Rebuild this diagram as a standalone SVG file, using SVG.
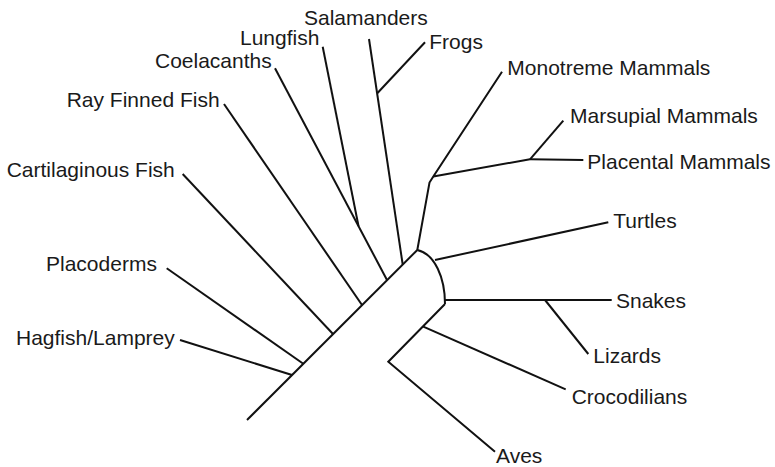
<svg xmlns="http://www.w3.org/2000/svg" width="775" height="467" viewBox="0 0 775 467">
<style>
.lbl{font-family:"Liberation Sans",Arial,sans-serif;font-size:21px;fill:#1a1a1a}
.ln{fill:none;stroke:#111;stroke-width:2;stroke-linecap:butt;stroke-linejoin:miter}
</style>
<rect width="775" height="467" fill="#fff"/>
<g id="connectors" class="ln">
<path class="ln" d="M247,420 L417.3,250"/>
<path class="ln" d="M180,340 L292,375"/>
<path class="ln" d="M166.7,268.3 L303.3,363.7"/>
<path class="ln" d="M182.7,174 L333,334"/>
<path class="ln" d="M224,104 L362,305"/>
<path class="ln" d="M275,68.3 L387,280"/>
<path class="ln" d="M322.7,46.7 L358.5,226"/>
<path class="ln" d="M369,39 L402.7,264.5"/>
<path class="ln" d="M425,42.3 L377.3,93.3"/>
<path class="ln" d="M417.3,250 L429.5,182.5 L433.3,176.5 L502,71.7"/>
<path class="ln" d="M433.3,176.5 L530,159.3"/>
<path class="ln" d="M530,159.3 L563.3,120.7"/>
<path class="ln" d="M530,159.3 L583.3,160"/>
<path class="ln" d="M417.3,250 C435,254 445,278 445,304"/>
<path class="ln" d="M435,260 L608.3,222.3"/>
<path class="ln" d="M445,300 L611.7,300"/>
<path class="ln" d="M545,300 L588.3,354"/>
<path class="ln" d="M445,304 L388.3,361.7 L495,451.7"/>
<path class="ln" d="M423.3,326.7 L565.7,389.3"/>
</g>
<g id="hagfish"><text class="lbl" x="16" y="345">Hagfish/Lamprey</text></g>
<g id="placoderms"><text class="lbl" x="46" y="271">Placoderms</text></g>
<g id="cartilaginous"><text class="lbl" x="6.7" y="176.7">Cartilaginous Fish</text></g>
<g id="rayfinned"><text class="lbl" x="66.7" y="106.7">Ray Finned Fish</text></g>
<g id="coelacanths"><text class="lbl" x="155" y="68.3">Coelacanths</text></g>
<g id="lungfish"><text class="lbl" x="240" y="45">Lungfish</text></g>
<g id="salamanders"><text class="lbl" x="304" y="25">Salamanders</text></g>
<g id="frogs"><text class="lbl" x="429.3" y="49.3">Frogs</text></g>
<g id="monotreme"><text class="lbl" x="507.3" y="75">Monotreme Mammals</text></g>
<g id="marsupial"><text class="lbl" x="570" y="123.3">Marsupial Mammals</text></g>
<g id="placental"><text class="lbl" x="587.3" y="169">Placental Mammals</text></g>
<g id="turtles"><text class="lbl" x="613.3" y="228.3">Turtles</text></g>
<g id="snakes"><text class="lbl" x="616" y="308.3">Snakes</text></g>
<g id="lizards"><text class="lbl" x="593.3" y="363.3">Lizards</text></g>
<g id="crocodilians"><text class="lbl" x="571.7" y="404">Crocodilians</text></g>
<g id="aves"><text class="lbl" x="496" y="463.3">Aves</text></g>
</svg>
